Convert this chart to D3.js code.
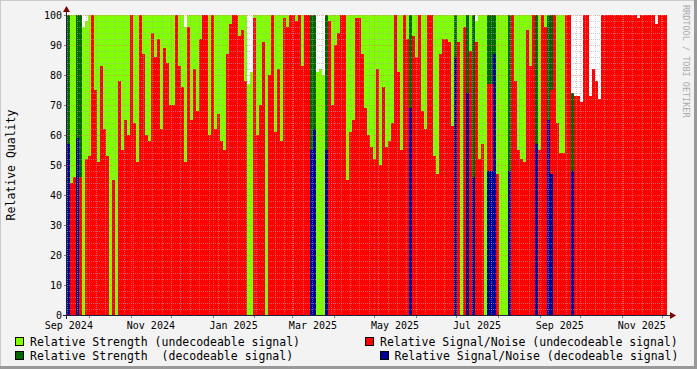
<!DOCTYPE html>
<html><head><meta charset="utf-8">
<script src="https://cdn.jsdelivr.net/npm/d3@7"></script>
<style>
body{margin:0;background:#f3f3f3}
svg{display:block}
text{font-family:"DejaVu Sans Mono",monospace}
</style>
</head><body>
<svg id="chart" width="697" height="369"></svg>
<script>
// ---- sampling grid (consolidated RRD rows) ----
const startTime = Date.UTC(2024, 8, 14, 15, 20);
const binHours = 53.53;

// Relative Strength (undecodeable signal)
const strengthUndec = [
0,100,100,0,0,96,98,100,100,100,100,100,100,100,100,100,100,100,100,100,
100,100,100,100,100,100,100,100,100,100,100,100,100,100,100,100,100,100,100,96,
100,100,100,100,100,100,100,100,100,100,100,100,100,100,100,100,100,100,100,100,
77,81,100,100,100,100,100,100,100,100,100,100,100,100,100,100,100,100,100,100,
100,0,0,81,82,80,0,100,100,100,100,100,100,100,100,100,100,100,100,100,
100,100,100,100,100,100,100,100,100,100,100,100,100,100,0,100,100,100,100,100,
100,100,100,100,100,100,100,100,100,0,100,100,100,0,100,0,98,100,100,100,
0,0,0,100,100,100,100,0,100,100,100,100,100,100,100,100,0,100,100,100,
0,0,100,100,100,100,0,0,0,0,0,0,0,0,0,0,0,0,0,0,
0,0,0,0,0,0,0,0,0,0,0,0,0,0,0,0,0,0,0,0];

// Relative Signal/Noise (undecodeable signal)
const snrUndec = [
0,44,46,0,46,0,52,53,100,75,51,83,62,53,0,45,0,78,55,65,
60,100,64,51,100,87,60,58,94,86,92,62,89,84,70,70,100,83,76,51,
96,65,82,68,92,100,100,60,100,62,67,58,55,87,97,100,100,93,95,78,
0,0,99,60,70,91,0,80,100,61,82,58,99,96,100,100,98,100,83,100,
100,0,0,0,0,0,0,98,70,90,94,100,100,45,61,65,99,99,87,69,
60,56,52,82,50,76,56,58,64,100,81,55,100,92,0,93,86,100,68,62,
100,100,53,47,87,92,92,91,63,0,91,0,96,0,88,0,91,52,57,0,
77,77,0,47,0,0,0,0,100,78,55,52,51,95,83,100,0,55,100,96,
0,75,100,64,54,54,100,100,0,73,73,71,100,100,73,82,78,72,100,100,
100,100,100,100,100,100,100,100,100,100,99,100,100,100,100,100,97,100,100,100];

// Relative Strength (decodeable signal)
const strengthDec = [
100,0,0,100,100,0,0,0,0,0,0,0,0,0,0,0,0,0,0,0,
0,0,0,0,0,0,0,0,0,0,0,0,0,0,0,0,0,0,0,0,
0,0,0,0,0,0,0,0,0,0,0,0,0,0,0,0,0,0,0,0,
0,0,0,0,0,0,0,0,0,0,0,0,0,0,0,0,0,0,0,0,
0,100,100,0,0,0,100,0,0,0,0,0,0,0,0,0,0,0,0,0,
0,0,0,0,0,0,0,0,0,0,0,0,0,0,100,0,0,0,0,0,
0,0,0,0,0,0,0,0,0,100,0,0,0,100,0,100,0,0,0,0,
100,100,100,0,0,0,0,100,0,0,0,0,0,0,0,0,100,0,0,0,
100,100,0,0,0,0,0,0,74,0,0,0,0,0,0,0,0,0,0,0,
0,0,0,0,0,0,0,0,0,0,0,0,0,0,0,0,0,0,0,0];

// Relative Signal/Noise (decodeable signal)
const snrDec = [
57,0,0,59,0,0,0,0,0,0,0,0,0,0,0,0,0,0,0,0,
0,0,0,0,0,0,0,0,0,0,0,0,0,0,0,0,0,0,0,0,
0,0,0,0,0,0,0,0,0,0,0,0,0,0,0,0,0,0,0,0,
0,0,0,0,0,0,0,0,0,0,0,0,0,0,0,0,0,0,0,0,
0,55,62,0,0,0,55,0,0,0,0,0,0,0,0,0,0,0,0,0,
0,0,0,0,0,0,0,0,0,0,0,0,0,0,69,0,0,0,0,0,
0,0,0,0,0,0,0,0,0,86,0,0,0,74,0,46,0,0,0,0,
48,48,87,0,0,0,0,48,0,0,0,0,0,0,0,0,57,0,0,0,
65,47,0,0,0,0,0,0,48,0,0,0,0,0,0,0,0,0,0,0,
0,0,0,0,0,0,0,0,0,0,0,0,0,0,0,0,0,0,0,0];

const yTickValues = [0,10,20,30,40,50,60,70,80,90,100];
const xLabelMonths = ["2024-09","2024-11","2025-01","2025-03","2025-05","2025-07","2025-09","2025-11"];
const seriesNames = ["Relative Strength (undecodeable signal)","Relative Strength  (decodeable signal)",
  "Relative Signal/Noise (undecodeable signal)","Relative Signal/Noise (decodeable signal)"];
const seriesColors = ["#80ff00","#006600","#ff0000","#000099"];

// ---- layout ----
const X0 = 67, X1 = 667, Y0 = 315, Y1 = 15;
const svg = d3.select("#chart");
const n = strengthUndec.length;
const tAt = i => new Date(startTime + i * binHours * 3600e3);
const x = d3.scaleUtc().domain([tAt(0), tAt(n)]).range([X0, X1]);
const y = d3.scaleLinear().domain([0, 100]).range([Y0, Y1]);

// background + frame shading
svg.append("rect").attr("width",697).attr("height",369).attr("fill","#f3f3f3");
svg.append("path").attr("d","M0,0.5H697M0.5,0V369").attr("stroke","#cbcbcb").attr("stroke-width",1);
svg.append("path").attr("d","M0,367.5H697M695.5,0V369").attr("stroke","#999").attr("stroke-width",3);
svg.append("rect").attr("x",X0).attr("y",Y1).attr("width",X1-X0).attr("height",Y0-Y1).attr("fill","#ffffff");

// ---- series areas (step) ----
const area = d3.area().curve(d3.curveStepAfter)
  .x(d => x(d.t)).y0(y(0)).y1(d => y(d.v));
const drawOrder = [[strengthUndec,0],[strengthDec,1],[snrUndec,2],[snrDec,3]];
drawOrder.forEach(([vals, ci]) => {
  const pts = vals.map((v,i) => ({t:tAt(i), v}));
  pts.push({t:tAt(n), v: vals[n-1]});
  svg.append("path").attr("d", area(pts)).attr("fill", seriesColors[ci])
    .attr("shape-rendering","crispEdges");
});

// ---- grid ----
const grid = svg.append("g").attr("shape-rendering","crispEdges");
const minorCol = "rgba(170,170,170,0.55)", majorCol = "rgba(240,110,110,0.55)";
d3.range(2, 100, 2).filter(v => v % 10 !== 0).forEach(v => {
  const yy = Math.round(y(v)) + 0.5;
  grid.append("line").attr("x1",X0).attr("x2",X1).attr("y1",yy).attr("y2",yy)
    .attr("stroke",minorCol).attr("stroke-dasharray","1,1");
});
x.ticks(d3.utcSunday.every(1)).forEach(t => {
  const xx = Math.round(x(t)) + 0.5;
  if (xx < X0 || xx > X1) return;
  grid.append("line").attr("x1",xx).attr("x2",xx).attr("y1",Y1).attr("y2",Y0)
    .attr("stroke",minorCol).attr("stroke-dasharray","1,1");
});
yTickValues.forEach(v => {
  const yy = Math.round(y(v)) + 0.5;
  grid.append("line").attr("x1",X0).attr("x2",X1).attr("y1",yy).attr("y2",yy)
    .attr("stroke",majorCol).attr("stroke-dasharray","1,1");
  grid.append("line").attr("x1",X0-3).attr("x2",X0).attr("y1",yy).attr("y2",yy)
    .attr("stroke","#7f7f7f");
});
x.ticks(d3.utcMonth.every(1)).forEach(t => {
  const xx = Math.round(x(t)) + 0.5;
  if (xx < X0 || xx > X1) return;
  grid.append("line").attr("x1",xx).attr("x2",xx).attr("y1",Y1).attr("y2",Y0)
    .attr("stroke",majorCol).attr("stroke-dasharray","1,1");
  grid.append("line").attr("x1",xx).attr("x2",xx).attr("y1",Y0).attr("y2",Y0+3)
    .attr("stroke","#7f7f7f");
});

// ---- axes ----
svg.append("line").attr("x1",X0-4).attr("x2",X1+3).attr("y1",Y0+0.5).attr("y2",Y0+0.5)
  .attr("stroke","#1c2340").attr("shape-rendering","crispEdges");
svg.append("line").attr("x1",X0-0.5).attr("x2",X0-0.5).attr("y1",Y1-4).attr("y2",Y0+4)
  .attr("stroke","#1c2340").attr("shape-rendering","crispEdges");
svg.append("path").attr("d",`M${X1+3},${Y0-3}L${X1+9},${Y0+0.5}L${X1+3},${Y0+4}Z`).attr("fill","#7f0000");
svg.append("path").attr("d",`M${X0-4},${Y1-3}L${X0-0.5},${Y1-9}L${X0+3},${Y1-3}Z`).attr("fill","#7f0000");

// y tick labels
yTickValues.forEach(v => {
  svg.append("text").attr("x",62).attr("y",y(v)+3.5).attr("text-anchor","end")
    .attr("font-size","10px").attr("fill","#000").text(v);
});
// x labels, centred in their month
const parseM = d3.utcParse("%Y-%m"), fmt = d3.utcFormat("%b %Y");
xLabelMonths.forEach(m => {
  const a = parseM(m), b = d3.utcMonth.offset(a,1);
  const mid = new Date((+a + +b)/2);
  svg.append("text").attr("x",x(mid)).attr("y",328.5).attr("text-anchor","middle")
    .attr("font-size","10px").attr("fill","#000").text(fmt(a));
});

// y title
svg.append("text").attr("transform","translate(15,165) rotate(-90)").attr("text-anchor","middle")
  .attr("font-size","11.5px").attr("fill","#000").text("Relative Quality");
// watermark
svg.append("text").attr("transform","translate(683,5) rotate(90)").attr("text-anchor","start")
  .attr("font-size","8.5px").attr("fill","#aaa").text("RRDTOOL / TOBI OETIKER");

// ---- legend ----
const legend = [
  {i:0, bx:15.5, by:337.5, tx:30, ty:345.5},
  {i:2, bx:365.5, by:337.5, tx:380, ty:345.5},
  {i:1, bx:15.5, by:351.5, tx:30, ty:359.5},
  {i:3, bx:380.5, by:351.5, tx:394.5, ty:359.5}];
legend.forEach(l => {
  svg.append("rect").attr("x",l.bx).attr("y",l.by).attr("width",8).attr("height",8)
    .attr("fill",seriesColors[l.i]).attr("stroke","#000").attr("stroke-width",1);
  svg.append("text").attr("x",l.tx).attr("y",l.ty).attr("font-size","11.5px")
    .attr("fill","#000").attr("xml:space","preserve").style("white-space","pre").text(seriesNames[l.i]);
});
</script>
</body></html>
